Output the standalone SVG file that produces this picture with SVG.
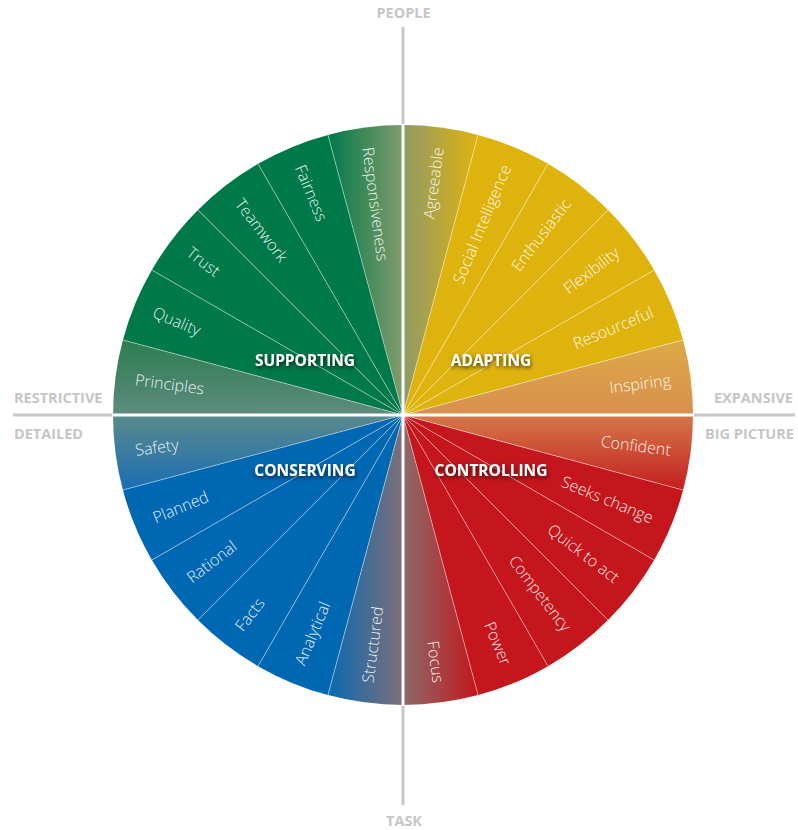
<svg xmlns="http://www.w3.org/2000/svg" width="798" height="830" viewBox="0 0 798 830">
<style>
.axis{stroke:#c8c8c8;stroke-width:3;fill:none}
.axl{font-family:"Open Sans","Liberation Sans",sans-serif;font-weight:700;font-size:14.5px;fill:#c6c6c6}
.sep{stroke:#ffffff;stroke-opacity:0.55;stroke-width:0.8;fill:none}
.cross{stroke:#ffffff;stroke-width:3;fill:none}
.lbl{font-family:"Open Sans","Liberation Sans",sans-serif;font-weight:300;font-size:16px;fill:#ffffff;fill-opacity:0.92}
.q{font-family:"Open Sans","Liberation Sans",sans-serif;font-weight:700;font-size:15.5px;fill:#ffffff;filter:url(#sh)}
.g{fill:#00794a}.y{fill:#dfb30e}.r{fill:#c4161c}.b{fill:#0068b3}
</style>
<defs>
<filter id="sh" x="-20%" y="-50%" width="140%" height="200%">
<feGaussianBlur in="SourceAlpha" stdDeviation="2.2"/>
<feOffset dx="1" dy="1.5" result="o"/>
<feComponentTransfer><feFuncA type="linear" slope="0.7"/></feComponentTransfer>
<feMerge><feMergeNode/><feMergeNode in="SourceGraphic"/></feMerge>
</filter>
<linearGradient id="gResp" x1="0" y1="0" x2="1" y2="0"><stop offset="0" stop-color="#00794a"/><stop offset="1" stop-color="#829c6b"/></linearGradient>
<linearGradient id="gAgree" x1="0" y1="0" x2="1" y2="0"><stop offset="0" stop-color="#8f9a67"/><stop offset="1" stop-color="#dfb30e"/></linearGradient>
<linearGradient id="gPrin" x1="0" y1="0" x2="0" y2="1"><stop offset="0" stop-color="#2c7d51"/><stop offset="1" stop-color="#5e8b7f"/></linearGradient>
<linearGradient id="gSafe" x1="0" y1="0" x2="0" y2="1"><stop offset="0" stop-color="#5b8a8b"/><stop offset="1" stop-color="#1a6db3"/></linearGradient>
<linearGradient id="gInsp" x1="0" y1="0" x2="0" y2="1"><stop offset="0" stop-color="#dcaa45"/><stop offset="1" stop-color="#d98f4f"/></linearGradient>
<linearGradient id="gConf" x1="0" y1="0" x2="0" y2="1"><stop offset="0" stop-color="#d5794a"/><stop offset="1" stop-color="#c41d1f"/></linearGradient>
<linearGradient id="gStruct" x1="0" y1="0" x2="1" y2="0"><stop offset="0" stop-color="#0a69b2"/><stop offset="1" stop-color="#7e6f78"/></linearGradient>
<linearGradient id="gFocus" x1="0" y1="0" x2="1" y2="0"><stop offset="0" stop-color="#8c6a6a"/><stop offset="1" stop-color="#c4161c"/></linearGradient>
</defs>

<g id="axes">
<line class="axis" x1="403" y1="27" x2="403" y2="805"/>
<line class="axis" x1="13" y1="415" x2="795" y2="415"/>
<text class="axl" x="403.5" y="18" text-anchor="middle">PEOPLE</text>
<text class="axl" x="404" y="826" text-anchor="middle">TASK</text>
<text class="axl" x="14" y="403">RESTRICTIVE</text>
<text class="axl" x="14" y="439">DETAILED</text>
<text class="axl" x="793" y="403" text-anchor="end">EXPANSIVE</text>
<text class="axl" x="794" y="439" text-anchor="end">BIG PICTURE</text>
</g>

<g id="adapting">
<path d="M403,415 L693,415 A290,290 0 0,0 683.12,339.94 Z" fill="url(#gInsp)"/>
<path class="y" d="M403,415 L683.12,339.94 A290,290 0 0,0 654.15,270 Z"/>
<path class="y" d="M403,415 L654.15,270 A290,290 0 0,0 608.06,209.94 Z"/>
<path class="y" d="M403,415 L608.06,209.94 A290,290 0 0,0 548,163.85 Z"/>
<path class="y" d="M403,415 L548,163.85 A290,290 0 0,0 478.06,134.88 Z"/>
<path d="M403,415 L478.06,134.88 A290,290 0 0,0 403,125 Z" fill="url(#gAgree)"/>
</g>
<g id="supporting">
<path d="M403,415 L403,125 A290,290 0 0,0 327.94,134.88 Z" fill="url(#gResp)"/>
<path class="g" d="M403,415 L327.94,134.88 A290,290 0 0,0 258,163.85 Z"/>
<path class="g" d="M403,415 L258,163.85 A290,290 0 0,0 197.94,209.94 Z"/>
<path class="g" d="M403,415 L197.94,209.94 A290,290 0 0,0 151.85,270 Z"/>
<path class="g" d="M403,415 L151.85,270 A290,290 0 0,0 122.88,339.94 Z"/>
<path d="M403,415 L122.88,339.94 A290,290 0 0,0 113,415 Z" fill="url(#gPrin)"/>
</g>
<g id="conserving">
<path d="M403,415 L113,415 A290,290 0 0,0 122.88,490.06 Z" fill="url(#gSafe)"/>
<path class="b" d="M403,415 L122.88,490.06 A290,290 0 0,0 151.85,560 Z"/>
<path class="b" d="M403,415 L151.85,560 A290,290 0 0,0 197.94,620.06 Z"/>
<path class="b" d="M403,415 L197.94,620.06 A290,290 0 0,0 258,666.15 Z"/>
<path class="b" d="M403,415 L258,666.15 A290,290 0 0,0 327.94,695.12 Z"/>
<path d="M403,415 L327.94,695.12 A290,290 0 0,0 403,705 Z" fill="url(#gStruct)"/>
</g>
<g id="controlling">
<path d="M403,415 L403,705 A290,290 0 0,0 478.06,695.12 Z" fill="url(#gFocus)"/>
<path class="r" d="M403,415 L478.06,695.12 A290,290 0 0,0 548,666.15 Z"/>
<path class="r" d="M403,415 L548,666.15 A290,290 0 0,0 608.06,620.06 Z"/>
<path class="r" d="M403,415 L608.06,620.06 A290,290 0 0,0 654.15,560 Z"/>
<path class="r" d="M403,415 L654.15,560 A290,290 0 0,0 683.12,490.06 Z"/>
<path d="M403,415 L683.12,490.06 A290,290 0 0,0 693,415 Z" fill="url(#gConf)"/>
</g>

<g id="connectors">
<path class="sep" d="M403,415 L683.12,339.94 M403,415 L654.15,270 M403,415 L608.06,209.94 M403,415 L548,163.85 M403,415 L478.06,134.88 M403,415 L327.94,134.88 M403,415 L258,163.85 M403,415 L197.94,209.94 M403,415 L151.85,270 M403,415 L122.88,339.94 M403,415 L122.88,490.06 M403,415 L151.85,560 M403,415 L197.94,620.06 M403,415 L258,666.15 M403,415 L327.94,695.12 M403,415 L478.06,695.12 M403,415 L548,666.15 M403,415 L608.06,620.06 M403,415 L654.15,560 M403,415 L683.12,490.06"/>
<line class="cross" x1="403" y1="124" x2="403" y2="706"/>
<line class="cross" x1="112" y1="415" x2="694" y2="415"/>
</g>

<g id="labels-adapting" class="lbl" text-anchor="end">
<text transform="translate(670.69,379.76) rotate(-7.5)" dy="0.35em">Inspiring</text>
<text transform="translate(652.45,311.68) rotate(-22.5)" dy="0.35em">Resourceful</text>
<text transform="translate(617.21,250.63) rotate(-37.5)" dy="0.35em">Flexibility</text>
<text transform="translate(567.37,200.79) rotate(-52.5)" dy="0.35em">Enthusiastic</text>
<text transform="translate(506.32,165.55) rotate(-67.5)" dy="0.35em">Social Intelligence</text>
<text transform="translate(438.24,147.31) rotate(-82.5)" dy="0.35em">Agreeable</text>
</g>
<g id="labels-supporting" class="lbl">
<text transform="translate(367.76,147.31) rotate(82.5)" dy="0.35em">Responsiveness</text>
<text transform="translate(299.68,165.55) rotate(67.5)" dy="0.35em">Fairness</text>
<text transform="translate(238.63,200.79) rotate(52.5)" dy="0.35em">Teamwork</text>
<text transform="translate(188.79,250.63) rotate(37.5)" dy="0.35em">Trust</text>
<text transform="translate(153.55,311.68) rotate(22.5)" dy="0.35em">Quality</text>
<text transform="translate(135.31,379.76) rotate(7.5)" dy="0.35em">Principles</text>
</g>
<g id="labels-conserving" class="lbl">
<text transform="translate(135.31,450.24) rotate(-7.5)" dy="0.35em">Safety</text>
<text transform="translate(153.55,518.32) rotate(-22.5)" dy="0.35em">Planned</text>
<text transform="translate(188.79,579.37) rotate(-37.5)" dy="0.35em">Rational</text>
<text transform="translate(238.63,629.21) rotate(-52.5)" dy="0.35em">Facts</text>
<text transform="translate(299.68,664.45) rotate(-67.5)" dy="0.35em">Analytical</text>
<text transform="translate(367.76,682.69) rotate(-82.5)" dy="0.35em">Structured</text>
</g>
<g id="labels-controlling" class="lbl" text-anchor="end">
<text transform="translate(670.69,450.24) rotate(7.5)" dy="0.35em">Confident</text>
<text transform="translate(652.45,518.32) rotate(22.5)" dy="0.35em">Seeks change</text>
<text transform="translate(617.21,579.37) rotate(37.5)" dy="0.35em">Quick to act</text>
<text transform="translate(567.37,629.21) rotate(52.5)" dy="0.35em">Competency</text>
<text transform="translate(506.32,664.45) rotate(67.5)" dy="0.35em">Power</text>
<text transform="translate(438.24,682.69) rotate(82.5)" dy="0.35em">Focus</text>
</g>

<g id="quadrant-titles">
<text class="q" x="305" y="366" text-anchor="middle">SUPPORTING</text>
<text class="q" x="491" y="366" text-anchor="middle">ADAPTING</text>
<text class="q" x="305" y="476" text-anchor="middle">CONSERVING</text>
<text class="q" x="491" y="476" text-anchor="middle">CONTROLLING</text>
</g>
</svg>
